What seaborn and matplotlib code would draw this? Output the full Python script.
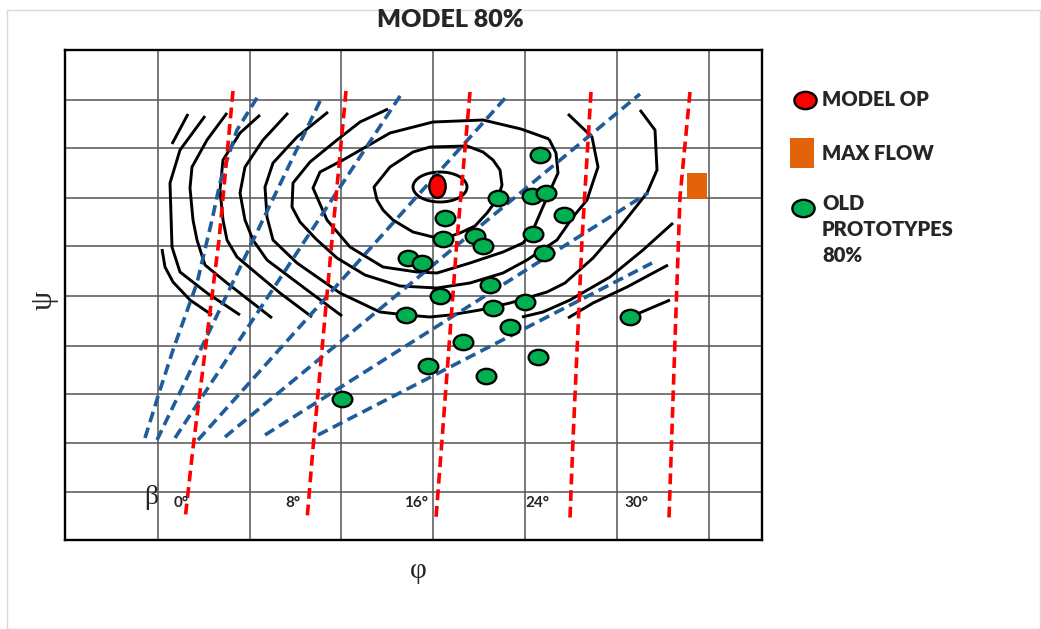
import numpy as np
import matplotlib
matplotlib.use("Agg")
import matplotlib.pyplot as plt
import seaborn as sns
from matplotlib.path import Path
from matplotlib.markers import MarkerStyle
from matplotlib.lines import Line2D
from matplotlib.patches import Ellipse, Rectangle

# ---------------- data (phi, psi in sketch units) ----------------
title = "MODEL 80%"
grid_phi = [9.3, 18.5, 27.6, 36.8, 46.0, 55.2, 64.4]
grid_psi = [4.8, 9.7, 14.6, 19.4, 24.4, 29.4, 34.2, 39.2, 44.0]

old_phi = [47.5, 43.3, 46.7, 48.1, 49.9, 38.0, 37.8, 41.0, 41.8, 46.8, 47.9, 34.3, 35.7,
           42.5, 37.5, 46.0, 42.8, 34.1, 44.5, 39.8, 47.3, 36.3, 42.1, 27.7, 56.5]
old_psi = [38.5, 34.2, 34.4, 34.7, 32.5, 32.2, 30.1, 30.4, 29.4, 30.6, 28.7, 28.2, 27.7,
           25.5, 24.4, 23.8, 23.2, 22.5, 21.3, 19.8, 18.3, 17.4, 16.4, 14.1, 22.3]
model_op = (37.2, 35.4)
max_flow = (63.2, 35.4)

beta_labels = ["0°", "8°", "16°", "24°", "30°"]
beta_label_phi = [11.6, 22.8, 35.1, 47.2, 57.1]
beta_label_psi = 3.7

# beta lines (red dashed)
beta_0 = [(16.8, 44.9), (15.4, 30.0), (12.8, 9.2), (12.0, 2.0)]
beta_8 = [(28.1, 44.9), (26.7, 30.0), (24.8, 9.2), (24.2, 2.0)]
beta_16 = [(40.5, 44.8), (39.2, 30.0), (37.7, 10.0), (37.1, 2.2)]
beta_24 = [(52.6, 44.8), (51.7, 30.0), (50.8, 10.0), (50.5, 2.2)]
beta_30 = [(62.5, 44.8), (61.5, 34.3), (61.0, 20.0), (60.4, 2.2)]

# blue dashed lines
blue_1 = [(8.0, 10.2), (9.5, 15.0), (10.8, 19.0), (13.2, 25.7), (14.7, 32.0), (15.5, 35.7),
          (16.2, 38.0), (17.2, 41.0), (19.5, 44.7)]
blue_2 = [(9.2, 10.0), (25.7, 44.3)]
blue_3 = [(11.0, 10.2), (33.7, 44.7)]
blue_4 = [(13.3, 10.0), (44.3, 44.5)]
blue_5 = [(16.0, 10.3), (57.5, 44.6)]
blue_6 = [(20.0, 10.5), (58.3, 34.7)]
blue_7 = [(25.3, 10.5), (58.7, 27.7)]

# efficiency contours (black)
contour_0a = [(12.3, 42.6), (10.7, 39.6)]
contour_0b = [(9.7, 29.1), (10.0, 27.3), (10.8, 25.8), (12.5, 24.0), (14.7, 22.5)]
contour_1 = [(14.0, 42.4), (11.5, 39.0), (10.5, 35.7), (10.7, 29.3), (11.5, 26.8), (14.2, 24.7), (17.5, 22.5)]
contour_2 = [(16.2, 42.7), (14.2, 40.0), (12.7, 37.3), (12.5, 35.2), (12.8, 32.0), (13.2, 30.0),
             (14.0, 27.5), (16.2, 25.7), (20.7, 22.2)]
contour_3 = [(19.5, 42.5), (17.5, 40.7), (15.8, 38.0), (15.5, 35.0), (15.8, 32.0), (16.2, 30.0),
             (17.2, 28.3), (21.5, 24.7), (24.7, 22.3)]
contour_4 = [(22.3, 42.7), (19.8, 40.0), (18.0, 37.3), (17.5, 34.7), (18.0, 32.0), (18.8, 30.0),
             (20.2, 28.0), (24.2, 25.0), (27.7, 22.4)]
contour_5 = [(26.3, 42.8), (23.2, 40.3), (20.8, 37.7), (20.0, 35.3), (20.2, 32.3), (20.8, 30.0),
             (23.2, 27.7), (27.5, 24.7), (31.5, 22.8), (34.1, 22.5), (36.5, 22.3), (38.5, 22.5),
             (41.5, 23.0), (44.5, 23.7), (48.2, 24.8), (50.0, 25.7), (52.8, 28.2), (55.5, 31.3),
             (58.2, 34.7), (59.2, 37.0), (59.0, 41.0), (57.5, 43.0)]
contour_6 = [(32.3, 43.1), (29.5, 41.8), (27.2, 40.0), (24.5, 37.8), (22.8, 35.7), (22.7, 33.3),
             (23.5, 31.8), (25.1, 30.1), (27.2, 28.2), (30.0, 26.5), (33.5, 25.4), (37.2, 25.2),
             (40.5, 25.7), (43.8, 26.7), (46.2, 28.0), (49.2, 30.0), (50.8, 32.3), (52.2, 34.0),
             (53.3, 37.3), (52.7, 40.3), (50.3, 42.6)]
contour_7 = [(48.4, 40.1), (49.1, 38.7), (49.3, 36.7), (48.4, 34.7), (47.7, 33.1), (46.8, 31.0),
             (45.8, 29.7), (43.8, 28.8), (40.5, 27.7), (37.2, 26.7), (35.2, 26.8), (31.8, 27.3),
             (28.5, 29.3), (26.2, 32.0), (24.8, 35.2), (25.5, 36.8), (27.8, 38.0), (32.5, 40.7),
             (36.8, 41.8), (41.8, 42.0), (45.6, 41.1), (48.4, 40.1)]
contour_8 = [(43.3, 34.2), (43.7, 35.5), (43.5, 37.0), (42.8, 38.0), (41.8, 38.8), (40.2, 39.4),
             (36.5, 39.3), (34.8, 38.8), (32.5, 37.3), (30.9, 35.3), (31.2, 34.0), (31.8, 33.0),
             (32.8, 32.0), (34.8, 30.8), (36.8, 30.3), (38.0, 30.2), (39.5, 30.7), (41.0, 31.4),
             (42.2, 32.7), (43.3, 34.2)]
contour_9_center = (37.5, 35.3)
contour_9_size = (5.4, 3.0)
contour_r1 = [(45.7, 22.3), (47.8, 22.8), (50.5, 24.0), (54.5, 26.3), (57.8, 29.0), (60.8, 31.7)]
contour_r2 = [(50.3, 22.2), (52.8, 23.7), (56.2, 25.3), (60.3, 27.5)]
contour_r3 = [(56.5, 22.3), (60.5, 24.0)]

legend_labels = ["MODEL OP", "MAX FLOW", "OLD\nPROTOTYPES\n80%"]

# ---------------- styling ----------------
sns.set_theme(style="white")
plt.rcParams['font.family'] = ['Lato', 'DejaVu Sans']

W, H = 1041, 629
fig = plt.figure(figsize=(W / 100, H / 100), dpi=100)
fig.patch.set_facecolor("white")
fig.add_artist(Rectangle((7 / W, 0), 1 - 8 / W, 1 - 10 / H, transform=fig.transFigure,
                         fill=False, edgecolor="#d9d9d9", lw=1.0))

ax = fig.add_axes([65 / W, 1 - 540 / H, 697 / W, 490 / H])
ax.set_xlim(0, 69.7)
ax.set_ylim(0, 49)
ax.set_xticks(grid_phi)
ax.set_yticks(grid_psi)
ax.tick_params(length=0, labelbottom=False, labelleft=False)
ax.grid(True, color="#5a5a5a", lw=1.15)
for s in ax.spines.values():
    s.set_color("black")
    s.set_linewidth(1.7)

RED = "#ff0000"
BLUE = "#1f5c99"
GREEN = "#00b050"
ORANGE = "#e3630a"


def draw(pts, color, lw, ls="-", z=3):
    p = np.array(pts)
    sns.lineplot(x=p[:, 0], y=p[:, 1], sort=False, estimator=None, ax=ax, color=color,
                 lw=lw, linestyle=ls, zorder=z, solid_capstyle="butt",
                 solid_joinstyle="round")


for c in [contour_0a, contour_0b, contour_1, contour_2, contour_3, contour_4, contour_5,
          contour_6, contour_7, contour_8, contour_r1, contour_r2, contour_r3]:
    draw(c, "black", 2.1, z=3)
ax.add_patch(Ellipse(contour_9_center, contour_9_size[0], contour_9_size[1],
                     fill=False, edgecolor="black", lw=2.1, zorder=3))

for b in [blue_1, blue_2, blue_3, blue_4, blue_5, blue_6, blue_7]:
    draw(b, BLUE, 2.6, ls=(0, (3.0, 1.6)), z=4)
for r in [beta_0, beta_8, beta_16, beta_24, beta_30]:
    draw(r, RED, 2.6, ls=(0, (3.0, 1.6)), z=4)

circ = Path.unit_circle()
ell_wide = MarkerStyle(Path(circ.vertices * np.array([1.0, 0.78]), circ.codes))
ell_tall = MarkerStyle(Path(circ.vertices * np.array([0.72, 1.0]), circ.codes))
rect_tall = MarkerStyle(Path([(-0.4, -0.5), (0.4, -0.5), (0.4, 0.5), (-0.4, 0.5), (-0.4, -0.5)],
                             [Path.MOVETO, Path.LINETO, Path.LINETO, Path.LINETO, Path.CLOSEPOLY]))

sns.scatterplot(x=old_phi, y=old_psi, ax=ax, marker=ell_wide, s=200, color=GREEN,
                edgecolor="black", linewidth=1.7, zorder=6)
sns.scatterplot(x=[model_op[0]], y=[model_op[1]], ax=ax, marker=ell_tall, s=270, color=RED,
                edgecolor="black", linewidth=1.7, zorder=6)
sns.scatterplot(x=[max_flow[0]], y=[max_flow[1]], ax=ax, marker=rect_tall, s=330, color=ORANGE,
                edgecolor="none", linewidth=0, zorder=6)

for lab, xp in zip(beta_labels, beta_label_phi):
    ax.text(xp, beta_label_psi, lab, ha="center", va="center", fontsize=11,
            fontweight="bold", zorder=7)
ax.text(8.6, 4.2, "β", ha="center", va="center", fontsize=20,
        family=["Liberation Serif", "DejaVu Serif"], zorder=7)

# title and axis symbols
fig.text(450 / W, 1 - 20 / H, title, ha="center", va="center", fontsize=18, fontweight="heavy")
fig.text(418 / W, 1 - 571 / H, "φ", ha="center", va="center", fontsize=21,
         family=["Liberation Serif", "DejaVu Serif"])
fig.text(44 / W, 1 - 300 / H, "ψ", ha="center", va="center", fontsize=22, rotation=90,
         family=["Liberation Serif", "DejaVu Serif"])

# legend
leg_markers = [(805, 100, ell_wide, RED, 16, "black"),
               (802, 153, rect_tall, ORANGE, 22, "none"),
               (803, 208, ell_wide, GREEN, 16, "black")]
for x, y, m, c, ms, ec in leg_markers:
    fig.add_artist(Line2D([x / W], [1 - y / H], transform=fig.transFigure, marker=m,
                          markersize=ms, markerfacecolor=c, markeredgecolor=ec,
                          markeredgewidth=1.7, linestyle="none"))
fig.text(822 / W, 1 - 100 / H, legend_labels[0], ha="left", va="center", fontsize=14.5,
         fontweight="heavy")
fig.text(822 / W, 1 - 153 / H, legend_labels[1], ha="left", va="center", fontsize=14.5,
         fontweight="heavy")
fig.text(822 / W, 1 - 194 / H, legend_labels[2], ha="left", va="top", fontsize=14.5,
         fontweight="heavy", linespacing=1.45)

fig.savefig("out.png", dpi=100, facecolor="white")
